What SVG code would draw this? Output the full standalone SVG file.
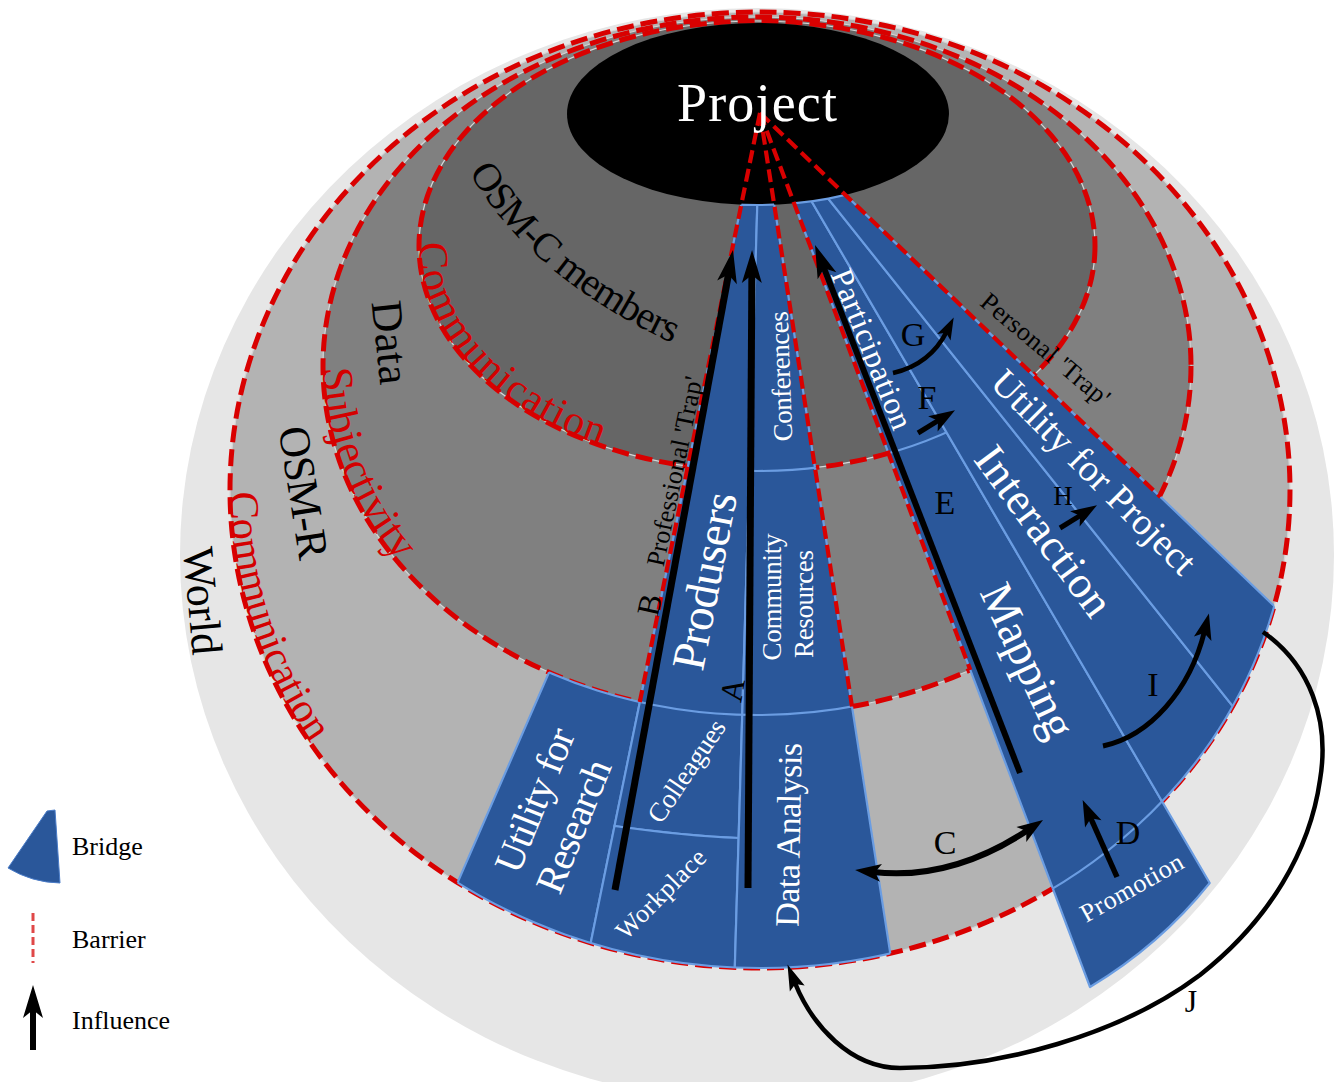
<svg xmlns="http://www.w3.org/2000/svg" width="1336" height="1082" viewBox="0 0 1336 1082">
<style>
text { font-family: "Liberation Serif", "Times New Roman", serif; }
.br { fill:#2a579a; stroke:#6b9de2; stroke-width:2.2; stroke-linejoin:round; }
.bl { fill:none; stroke:#6b9de2; stroke-width:2.2; }
.ring { fill:none; stroke:#d90000; stroke-width:5; stroke-dasharray:17 7; }
.ringbase { fill:none; stroke:#d6d6d6; stroke-width:1.2; }
.rad { fill:none; stroke:#d90000; stroke-width:4.2; stroke-dasharray:13 6; }
.w { fill:#ffffff; }
.k { fill:#000000; }
.red { fill:#d40000; }
.arr { fill:none; stroke:#000000; }
</style>
<defs>
<clipPath id="cpR1"><ellipse cx="760" cy="490" rx="530" ry="478"/></clipPath>
<clipPath id="cpR2"><ellipse cx="757" cy="366" rx="434" ry="349"/></clipPath>
<clipPath id="cpR3"><ellipse cx="757" cy="246" rx="338" ry="225"/></clipPath>
<clipPath id="cpA12"><path clip-rule="evenodd" d="M230,490 a530,478 0 1,0 1060,0 a530,478 0 1,0 -1060,0 Z M323,366 a434,349 0 1,0 868,0 a434,349 0 1,0 -868,0 Z"/></clipPath>
<clipPath id="cpA23"><path clip-rule="evenodd" d="M323,366 a434,349 0 1,0 868,0 a434,349 0 1,0 -868,0 Z M419,246 a338,225 0 1,0 676,0 a338,225 0 1,0 -676,0 Z"/></clipPath>
<clipPath id="cpA13"><path clip-rule="evenodd" d="M230,490 a530,478 0 1,0 1060,0 a530,478 0 1,0 -1060,0 Z M419,246 a338,225 0 1,0 676,0 a338,225 0 1,0 -676,0 Z"/></clipPath>
<clipPath id="cpOut1"><path clip-rule="evenodd" d="M0,0 H1336 V1082 H0 Z M230,490 a530,478 0 1,0 1060,0 a530,478 0 1,0 -1060,0 Z"/></clipPath>
<clipPath id="cpLW"><polygon points="760,113 660.7,600 580.5,600 363,1100 913,1100"/></clipPath>
<clipPath id="cpLDL2"><polygon points="760,113 730.9,1100 913,1100"/></clipPath>
<clipPath id="cpL3DA"><polygon points="760,113 1132.7,1100 1336.4,1100"/></clipPath>
<clipPath id="cpRW"><polygon points="760,113 1132.7,1100 1789.4,1100"/></clipPath>
<clipPath id="cpBoth"><polygon points="760,113 558.7,1100 913,1100"/><polygon points="760,113 1132.7,1100 1789.4,1100"/></clipPath>
<marker id="hBig" markerUnits="userSpaceOnUse" viewBox="-40 -40 80 80" markerWidth="80" markerHeight="80" refX="0" refY="0" orient="auto-start-reverse" overflow="visible"><path d="M22,0 L-11,-10 L-3,0 L-11,10 Z" fill="#000"/></marker>
<marker id="hMed" markerUnits="userSpaceOnUse" viewBox="-40 -40 80 80" markerWidth="80" markerHeight="80" refX="0" refY="0" orient="auto-start-reverse" overflow="visible"><path d="M18,0 L-8,-9 L-2,0 L-8,9 Z" fill="#000"/></marker>
<marker id="hSm" markerUnits="userSpaceOnUse" viewBox="-40 -40 80 80" markerWidth="80" markerHeight="80" refX="0" refY="0" orient="auto-start-reverse" overflow="visible"><path d="M15,0 L-7,-7.5 L-2,0 L-7,7.5 Z" fill="#000"/></marker>
<marker id="hJ" markerUnits="userSpaceOnUse" viewBox="-40 -40 80 80" markerWidth="80" markerHeight="80" refX="0" refY="0" orient="auto-start-reverse" overflow="visible"><path d="M20,0 L-6,-8 L-1,0 L-6,8 Z" fill="#000"/></marker>
<path id="pOSMC" d="M469,172 C514,250 590,305 672,343"/>
<path id="pC1" d="M419.12,240 A338,225 0 0,0 757,471"/>
<path id="pSub" d="M323,366 A434,349 0 0,0 757,715"/>
<path id="pC2" d="M230,490 A530,478 0 0,0 760,968"/>
</defs>

<g id="world"><ellipse cx="757" cy="555" rx="577" ry="547" fill="#e6e6e6"/></g>
<g id="osm-r"><ellipse cx="760" cy="490" rx="530" ry="478" fill="#b3b3b3"/></g>
<g id="data"><ellipse cx="757" cy="366" rx="434" ry="349" fill="#808080"/></g>
<g id="osm-c"><ellipse cx="757" cy="246" rx="338" ry="225" fill="#666666"/></g>

<g id="barrier-rings">
<ellipse class="ringbase" cx="760" cy="490" rx="530" ry="478"/>
<ellipse class="ringbase" cx="757" cy="366" rx="434" ry="349"/>
<ellipse class="ringbase" cx="757" cy="246" rx="338" ry="225"/>
<ellipse class="ring" cx="760" cy="490" rx="530" ry="478"/>
<ellipse class="ring" cx="757" cy="366" rx="434" ry="349"/>
<ellipse class="ring" cx="757" cy="246" rx="338" ry="225"/>
</g>

<g id="bridge-utility-research"><polygon class="br" clip-path="url(#cpA12)" points="580.5,600 660.7,600 558.7,1100 363,1100"/></g>
<g id="bridge-produsers"><polygon class="br" clip-path="url(#cpR2)" points="760,113 558.7,1100 730.9,1100"/></g>
<g id="bridge-colleagues"><path class="br" clip-path="url(#cpA12)" d="M660.7,600 L745.6,600 L738.6,838 Q686,836 614.5,826 Z"/></g>
<g id="bridge-workplace"><path class="br" clip-path="url(#cpR1)" d="M614.5,826 Q686,836 738.6,838 L730.9,1100 L558.7,1100 Z"/></g>
<g id="bridge-conferences"><polygon class="br" clip-path="url(#cpR3)" points="760,113 730.9,1100 913,1100"/></g>
<g id="bridge-community-resources"><polygon class="br" clip-path="url(#cpA23)" points="760,113 730.9,1100 913,1100"/></g>
<g id="bridge-data-analysis"><polygon class="br" clip-path="url(#cpA12)" points="760,113 730.9,1100 913,1100"/></g>
<g id="bridge-participation"><polygon class="br" clip-path="url(#cpR3)" points="760,113 1132.7,1100 1336.4,1100"/></g>
<g id="bridge-mapping"><polygon class="br" clip-path="url(#cpA13)" points="760,113 1132.7,1100 1336.4,1100"/></g>
<g id="bridge-promotion"><path class="br" clip-path="url(#cpOut1)" d="M1000.5,750 L1102.8,700 L1209.7,883 Q1160,945 1090,987 Z"/></g>
<g id="bridge-interaction"><polygon class="br" clip-path="url(#cpR1)" points="760,113 1336.4,1100 1546.6,1100"/></g>
<g id="bridge-utility-project"><polygon class="br" clip-path="url(#cpR1)" points="760,113 1546.6,1100 1789.4,1100"/></g>

<g id="bridge-dividers">
<g clip-path="url(#cpLW)">
<ellipse class="bl" cx="760" cy="490" rx="530" ry="478"/>
<ellipse class="bl" cx="757" cy="366" rx="434" ry="349"/>
</g>
<g clip-path="url(#cpLDL2)"><ellipse class="bl" cx="757" cy="246" rx="338" ry="225"/></g>
<g clip-path="url(#cpL3DA)"><ellipse class="bl" cx="757" cy="246" rx="338" ry="225"/></g>
<g clip-path="url(#cpRW)"><ellipse class="bl" cx="760" cy="490" rx="530" ry="478"/></g>
</g>

<g id="project">
<ellipse cx="758" cy="114" rx="191" ry="91" fill="#000"/>
<ellipse class="bl" clip-path="url(#cpBoth)" cx="758" cy="114" rx="191" ry="91"/>
</g>

<g id="trap-barriers">
<path class="rad" d="M760,113 L639.8,702"/>
<path class="rad" d="M760,113 L852,706.5"/>
<path class="rad" d="M760,113 L970.3,670"/>
<path class="rad" d="M760,113 L1160.5,497"/>
</g>

<g id="project-label"><text class="w" x="757" y="121" font-size="54" text-anchor="middle" textLength="160">Project</text></g>

<g id="ring-labels">
<text class="k" font-size="40"><textPath href="#pOSMC" textLength="270">OSM-C members</textPath></text>
<text class="red" font-size="42"><textPath href="#pC1" startOffset="3" textLength="290">Communication</textPath></text>
<text class="k" font-size="44" text-anchor="middle" transform="translate(376,344) rotate(84)" textLength="84">Data</text>
<text class="red" font-size="44"><textPath href="#pSub" startOffset="2" textLength="212">Subjectivity</textPath></text>
<text class="k" font-size="44" text-anchor="middle" transform="translate(289,495) rotate(81)" textLength="134">OSM-R</text>
<text class="red" font-size="42"><textPath href="#pC2" startOffset="2" textLength="268">Communication</textPath></text>
<text class="k" font-size="44" text-anchor="middle" transform="translate(188,602) rotate(85)" textLength="108">World</text>
<text class="k" font-size="26" text-anchor="middle" transform="translate(683,473) rotate(-78.3)" textLength="193">Professional 'Trap'</text>
<text class="k" font-size="26" text-anchor="middle" transform="translate(1040,356) rotate(40)" textLength="160">Personal 'Trap'</text>
</g>

<g id="bridge-labels">
<text class="w" font-size="40" text-anchor="middle" transform="translate(547,805) rotate(-68)" textLength="152">Utility for</text>
<text class="w" font-size="40" text-anchor="middle" transform="translate(586,831) rotate(-68)" textLength="140">Research</text>
<text class="w" font-size="47" text-anchor="middle" transform="translate(720,584) rotate(-79)" textLength="180">Produsers</text>
<text class="w" font-size="27" text-anchor="middle" transform="translate(694,776) rotate(-56)" textLength="118">Colleagues</text>
<text class="w" font-size="26" text-anchor="middle" transform="translate(667,900) rotate(-45)" textLength="116">Workplace</text>
<text class="w" font-size="27" text-anchor="middle" transform="translate(790,376) rotate(-92)" textLength="130">Conferences</text>
<text class="w" font-size="27" text-anchor="middle" transform="translate(781,597) rotate(-90)" textLength="127">Community</text>
<text class="w" font-size="27" text-anchor="middle" transform="translate(813,604) rotate(-90)" textLength="108">Resources</text>
<text class="w" font-size="34" text-anchor="middle" transform="translate(800,835) rotate(-89)" textLength="184">Data Analysis</text>
<text class="w" font-size="32" text-anchor="middle" transform="translate(862,353) rotate(68)" textLength="170">Participation</text>
<text class="w" font-size="38" text-anchor="middle" transform="translate(1085,481) rotate(45)" textLength="272">Utility for Project</text>
<text class="w" font-size="45" text-anchor="middle" transform="translate(1032,540) rotate(53.5)" textLength="200">Interaction</text>
<text class="w" font-size="46" text-anchor="middle" transform="translate(1014,667) rotate(65)" textLength="165">Mapping</text>
<text class="w" font-size="26" text-anchor="middle" transform="translate(1136,895) rotate(-29.3)" textLength="114">Promotion</text>
</g>

<g id="connectors">
<path class="arr" stroke-width="7" d="M748,888 L751.9,272" marker-end="url(#hBig)"/>
<path class="arr" stroke-width="7" d="M615,890 L729,271.6" marker-end="url(#hBig)"/>
<path class="arr" stroke-width="6" d="M1020,773 L823,265.5" marker-end="url(#hBig)"/>
<path class="arr" stroke-width="6" d="M873,872 Q951,881 1028,830" marker-start="url(#hMed)" marker-end="url(#hMed)"/>
<path class="arr" stroke-width="5.5" d="M1117,877 L1090,816.5" marker-end="url(#hMed)"/>
<path class="arr" stroke-width="5" d="M1103,746 C1150,736 1190,690 1204.6,631" marker-end="url(#hMed)"/>
<path class="arr" stroke-width="4.5" d="M893,373 C915,368 935,355 947,331" marker-end="url(#hSm)"/>
<path class="arr" stroke-width="5" d="M918,433 L939.7,419.6" marker-end="url(#hMed)"/>
<path class="arr" stroke-width="5" d="M1060,528 L1081.7,514.6" marker-end="url(#hMed)"/>
<path class="arr" stroke-width="4.5" d="M1263,632 C1310,665 1330,720 1320,780 C1310,850 1270,920 1200,975 C1120,1035 1000,1068 900,1068 C850,1068 812,1025 795,983" marker-end="url(#hJ)"/>
</g>

<g id="connector-labels">
<text class="k" font-size="32" text-anchor="middle" transform="translate(743,692) rotate(-80)">A</text>
<text class="k" font-size="32" text-anchor="middle" transform="translate(660,607) rotate(-78)">B</text>
<text class="k" font-size="34" x="945" y="854" text-anchor="middle">C</text>
<text class="k" font-size="34" x="1128" y="844" text-anchor="middle">D</text>
<text class="k" font-size="34" x="945" y="514" text-anchor="middle">E</text>
<text class="k" font-size="34" x="927" y="409" text-anchor="middle">F</text>
<text class="k" font-size="34" x="913" y="346" text-anchor="middle">G</text>
<text class="k" font-size="27" x="1063" y="505" text-anchor="middle">H</text>
<text class="k" font-size="34" x="1153" y="696" text-anchor="middle">I</text>
<text class="k" font-size="32" x="1191" y="1012" text-anchor="middle">J</text>
</g>

<g id="legend">
<path d="M8,868 L47,811 L55,810 L60,883 Q32,882.5 8,868 Z" fill="#2a579a" stroke="#4a7cc8" stroke-width="1"/>
<text class="k" x="72" y="855" font-size="26">Bridge</text>
<line x1="33" y1="913" x2="33" y2="963" stroke="#e04848" stroke-width="3" stroke-dasharray="8 4"/>
<text class="k" x="72" y="948" font-size="26">Barrier</text>
<path class="arr" stroke-width="6" d="M33,1050 L33,1007" marker-end="url(#hBig)"/>
<text class="k" x="72" y="1029" font-size="26">Influence</text>
</g>
</svg>
